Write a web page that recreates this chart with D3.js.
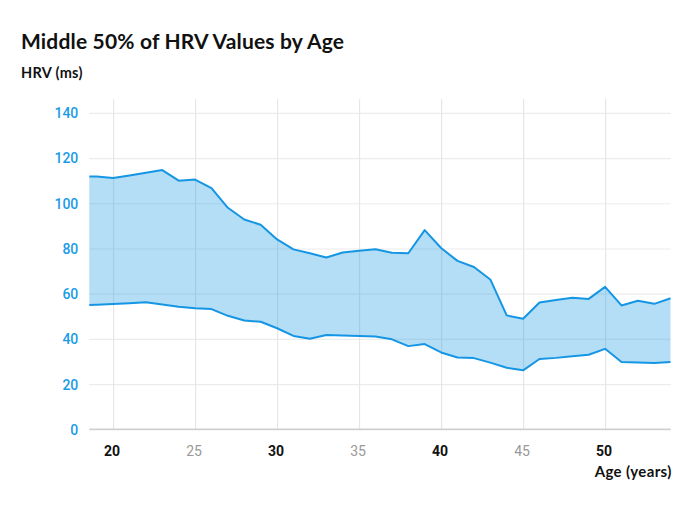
<!DOCTYPE html>
<html>
<head>
<meta charset="utf-8">
<script src="https://cdn.jsdelivr.net/npm/d3@7"></script>
<style>
  html, body { margin: 0; padding: 0; background: #fff; }
  svg { display: block; }
</style>
</head>
<body>
<svg id="chart" width="700" height="506"></svg>
<script>
const ages  = [18, 19, 20, 21, 22, 23, 24, 25, 26, 27, 28, 29, 30, 31, 32, 33, 34, 35, 36,
               37, 38, 39, 40, 41, 42, 43, 44, 45, 46, 47, 48, 49, 50, 51, 52, 53, 54];
const upper = [112, 111.8, 111.2, 112.3, 113.5, 114.7, 110.0, 110.5, 106.7, 98.0, 92.8, 90.5, 84.0,
               79.6, 77.9, 76.0, 78.2, 79.0, 79.7, 78.1, 77.9, 88.1, 80.2, 74.5, 71.8, 66.3,
               50.4, 48.9, 56.1, 57.2, 58.2, 57.7, 63.0, 54.8, 56.9, 55.5, 58.0];
const lower = [54.8, 55.1, 55.4, 55.8, 56.2, 55.2, 54.2, 53.6, 53.2, 50.2, 48.1, 47.6, 44.7,
               41.3, 40.1, 41.7, 41.5, 41.3, 41.1, 39.8, 36.8, 37.7, 34.0, 31.8, 31.5, 29.5,
               27.2, 26.1, 31.1, 31.6, 32.3, 33.0, 35.6, 29.8, 29.5, 29.3, 29.8];
const yTicks = [0, 20, 40, 60, 80, 100, 120, 140];
const xTicks = [20, 25, 30, 35, 40, 45, 50];
const xMajor = [20, 30, 40, 50];

const data = ages.map((a, i) => ({ age: a, hi: upper[i], lo: lower[i] }));

const svg = d3.select("#chart");
const pLeft = 89.3, pRight = 670.7, pTop = 99.3, pBottom = 429.3;

const x = d3.scaleLinear().domain([18.55, 54]).range([pLeft, pRight]);
const y = d3.scaleLinear().domain([0, 146]).range([pBottom, pTop]);

const blue = "#1596e4";

svg.append("defs").append("clipPath").attr("id", "plotclip")
  .append("rect").attr("x", pLeft).attr("y", pTop - 5)
  .attr("width", pRight - pLeft).attr("height", pBottom - pTop + 10);

// title
svg.append("text").attr("x", 21).attr("y", 48.5)
  .attr("font-family", "Lato, sans-serif").attr("font-weight", 700)
  .attr("font-size", 21).attr("letter-spacing", 0.17).attr("fill", "#111")
  .text("Middle 50% of HRV Values by Age");

svg.append("text").attr("x", 21).attr("y", 77.5)
  .attr("font-family", "Lato, sans-serif").attr("font-weight", 700)
  .attr("font-size", 14.5).attr("letter-spacing", 0.3).attr("fill", "#111")
  .text("HRV (ms)");

// horizontal gridlines
const gy = svg.append("g").attr("transform", `translate(${pLeft},0)`)
  .call(d3.axisLeft(y).tickValues(yTicks).tickSize(-(pRight - pLeft)).tickFormat(""));
gy.select(".domain").remove();
gy.selectAll(".tick line").attr("stroke", "#ececec").attr("stroke-width", 1.2);

// vertical gridlines
const gx = svg.append("g").attr("transform", `translate(0,${pBottom})`)
  .call(d3.axisBottom(x).tickValues(xTicks).tickSize(-(pBottom - pTop)).tickFormat(""));
gx.select(".domain").remove();
gx.selectAll(".tick line").attr("stroke", "#e6e6e6").attr("stroke-width", 1.2);

// area
const area = d3.area().x(d => x(d.age)).y0(d => y(d.lo)).y1(d => y(d.hi));
svg.append("path").datum(data).attr("clip-path", "url(#plotclip)")
  .attr("d", area).attr("fill", blue).attr("fill-opacity", 0.32);

const lineHi = d3.line().x(d => x(d.age)).y(d => y(d.hi));
const lineLo = d3.line().x(d => x(d.age)).y(d => y(d.lo));
[lineHi, lineLo].forEach(l => {
  svg.append("path").datum(data).attr("clip-path", "url(#plotclip)")
    .attr("d", l).attr("fill", "none").attr("stroke", blue)
    .attr("stroke-width", 2).attr("stroke-linejoin", "round");
});

// x axis baseline
svg.append("line").attr("x1", pLeft).attr("x2", pRight)
  .attr("y1", pBottom).attr("y2", pBottom)
  .attr("stroke", "#cfcfcf").attr("stroke-width", 1.5);

// y labels
const yAxis = svg.append("g").attr("transform", `translate(${pLeft - 8},0)`)
  .call(d3.axisLeft(y).tickValues(yTicks).tickSize(0));
yAxis.select(".domain").remove();
yAxis.selectAll("text")
  .attr("font-family", "Roboto, sans-serif").attr("font-weight", 500)
  .attr("font-size", 14).attr("fill", "#1a9be6").attr("dy", "0.35em");

// x labels
const xAxis = svg.append("g").attr("transform", `translate(-1.5,${pBottom + 14})`)
  .call(d3.axisBottom(x).tickValues(xTicks).tickSize(0));
xAxis.select(".domain").remove();
xAxis.selectAll("text")
  .attr("font-family", "Roboto, sans-serif").attr("font-size", 14)
  .attr("font-weight", d => xMajor.includes(d) ? 700 : 400)
  .attr("fill", d => xMajor.includes(d) ? "#111" : "#999");

svg.append("text").attr("x", pRight + 1).attr("y", 477)
  .attr("text-anchor", "end")
  .attr("font-family", "Lato, sans-serif").attr("font-weight", 700)
  .attr("font-size", 15).attr("letter-spacing", 0.35).attr("fill", "#111")
  .text("Age (years)");
</script>
</body>
</html>
